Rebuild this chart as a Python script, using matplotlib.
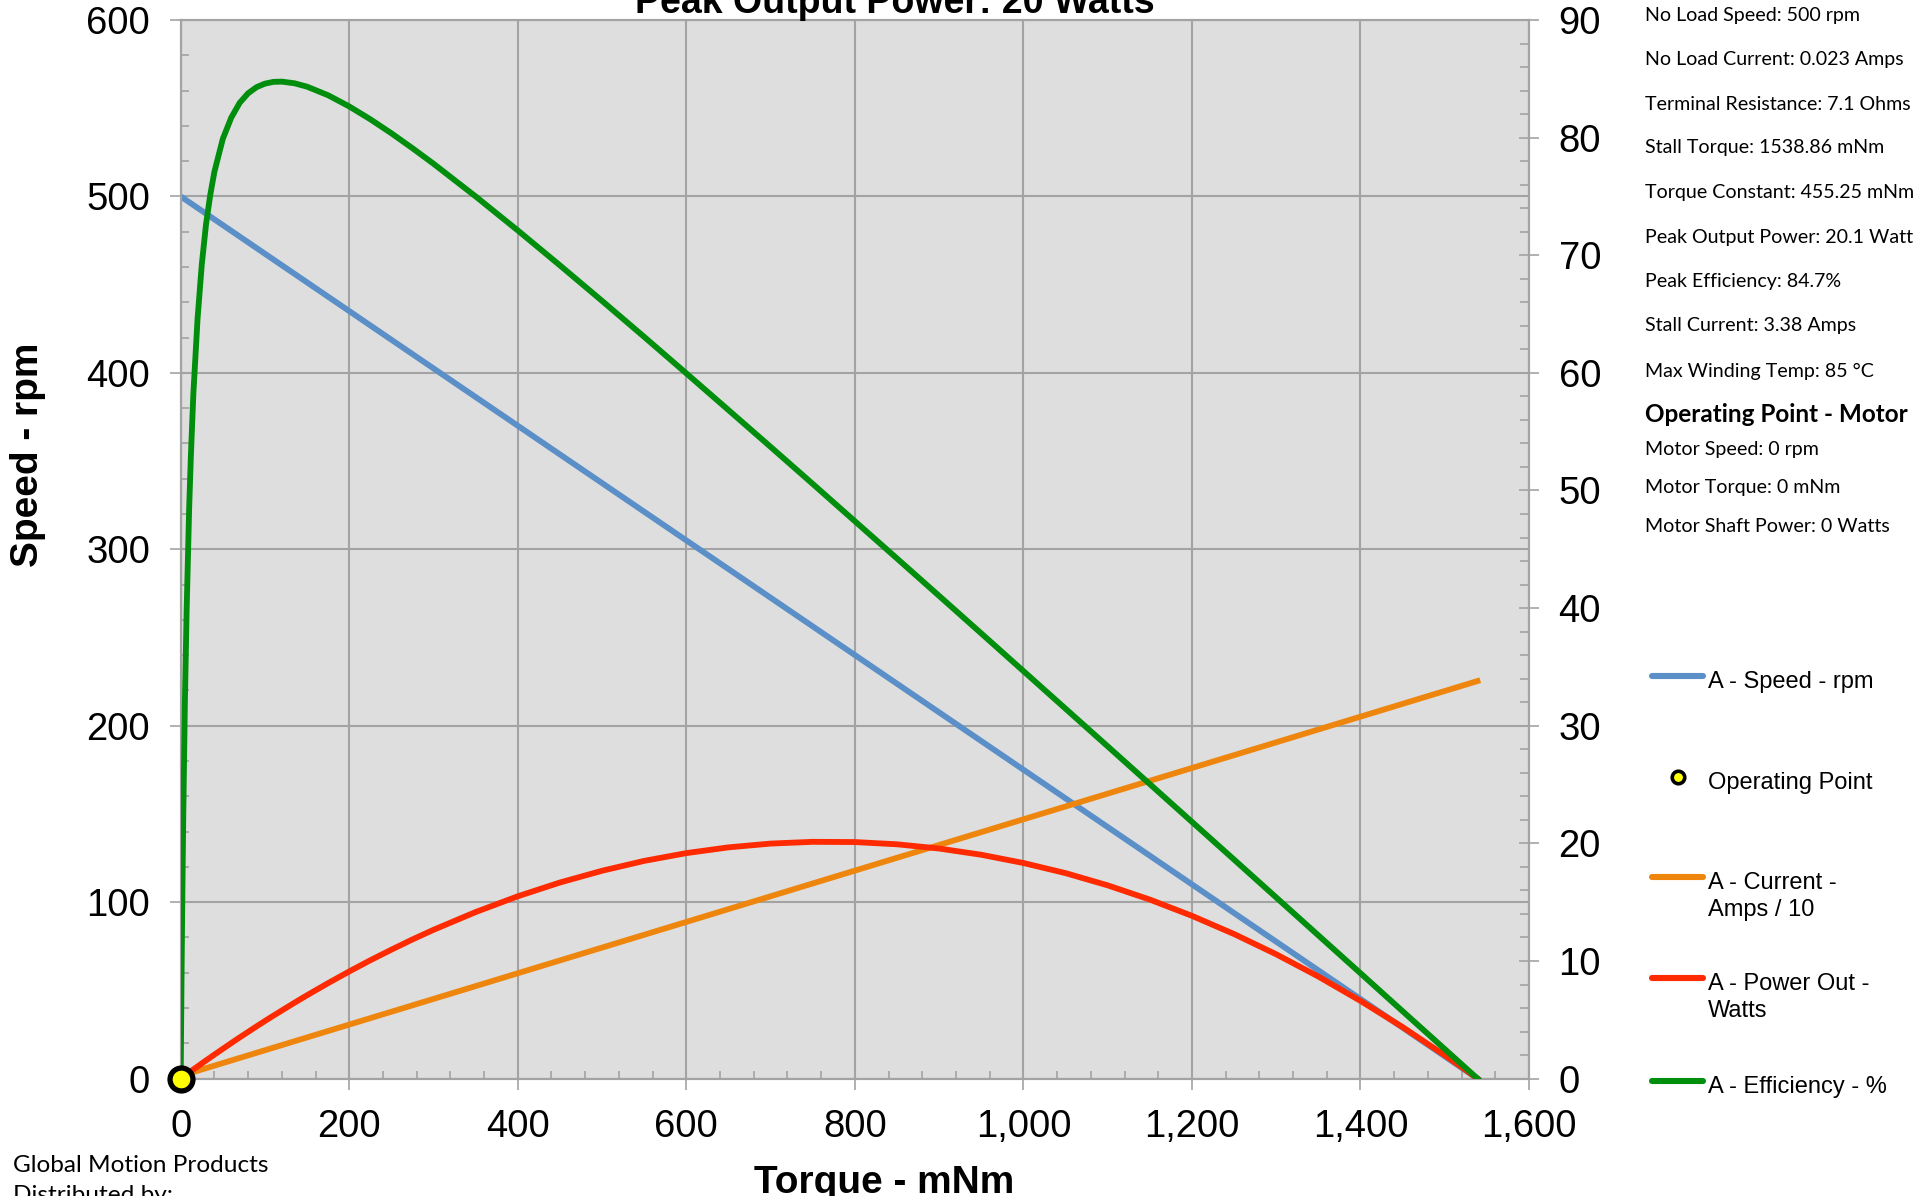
import matplotlib
matplotlib.use('Agg')
import matplotlib.pyplot as plt
from matplotlib.ticker import MultipleLocator, FuncFormatter
from matplotlib.lines import Line2D

# Values.
torque = [0, 0.5, 1, 2, 3, 5, 7, 10, 12, 15, 20, 25, 30, 35, 40, 50, 60, 70, 80, 90,
          100, 110, 120, 135, 150, 175, 200, 225, 250, 275, 300, 350, 400, 450, 500, 550,
          600, 650, 700, 750, 800, 850, 900, 950, 1000, 1050, 1100, 1150, 1200, 1250,
          1300, 1350, 1400, 1450, 1500, 1520, 1538.86]
power_out = [0, 0.03, 0.05, 0.10, 0.16, 0.26, 0.36, 0.52, 0.62, 0.78, 1.03, 1.29, 1.54, 1.79,
             2.04, 2.53, 3.02, 3.50, 3.97, 4.44, 4.90, 5.35, 5.79, 6.45, 7.09, 8.12, 9.11,
             10.06, 10.96, 11.83, 12.65, 14.16, 15.50, 16.67, 17.67, 18.51, 19.17, 19.66,
             19.98, 20.13, 20.11, 19.92, 19.56, 19.03, 18.33, 17.47, 16.43, 15.22, 13.84,
             12.29, 10.57, 8.68, 6.61, 4.38, 1.98, 0.98, 0]
efficiency = [0, 4.5, 8.7, 15.9, 22.1, 32.1, 39.7, 48.4, 52.8, 58.2, 64.6, 69.2, 72.6, 75.1,
              77.1, 79.9, 81.7, 82.96, 83.77, 84.29, 84.59, 84.74, 84.76, 84.62, 84.33, 83.6,
              82.65, 81.56, 80.37, 79.1, 77.78, 75.0, 72.11, 69.14, 66.12, 63.06, 59.96, 56.84,
              53.71, 50.56, 47.39, 44.22, 41.04, 37.85, 34.65, 31.45, 28.25, 25.04, 21.83,
              18.62, 15.4, 12.18, 8.96, 5.73, 2.51, 1.22, 0]

# straight lines: end points only
line_torque = [0, 1538.86]
speed = [500, 0]
current = [0.23, 33.8]

op_torque = [0]
op_value = [0]

title = "Peak Output Power: 20 Watts"
info_lines = ["No Load Speed: 500 rpm", "No Load Current: 0.023 Amps",
              "Terminal Resistance: 7.1 Ohms", "Stall Torque: 1538.86 mNm",
              "Torque Constant: 455.25 mNm/A", "Peak Output Power: 20.1 Watts",
              "Peak Efficiency: 84.7%", "Stall Current: 3.38 Amps",
              "Max Winding Temp: 85 \u00b0C"]
op_header = "Operating Point - Motor"
op_lines = ["Motor Speed: 0 rpm", "Motor Torque: 0 mNm", "Motor Shaft Power: 0 Watts"]
legend_labels = ["A - Speed - rpm", "Operating Point", "A - Current -\nAmps / 10",
                 "A - Power Out -\nWatts", "A - Efficiency - %"]

W, H = 1913, 1196
def fx(px):
    return px / W
def fy(py):
    return 1 - py / H

c_speed = '#5B8FC8'
c_current = '#EE860E'
c_power = '#FF2A00'
c_eff = '#008E0C'
c_grey = '#A3A3A3'

plt.rcParams['font.family'] = ['Liberation Sans', 'DejaVu Sans']

fig = plt.figure(figsize=(W / 100, H / 100), dpi=100)
ax = fig.add_axes([fx(180.7), fy(1078.6), fx(1529) - fx(180.7), fy(20) - fy(1078.6)])
ax.set_facecolor('#DEDEDE')
ax2 = ax.twinx()

lw = 4.2
style = dict(lw=lw, solid_joinstyle='round')
ax.plot(line_torque, speed, color=c_speed, zorder=3, **style)
ax2.plot(line_torque, current, color=c_current, zorder=3, **style)
ax2.plot(torque, power_out, color=c_power, zorder=4, **style)
ax2.plot(torque, efficiency, color=c_eff, zorder=5, **style)
ax2.plot(op_torque, op_value, 'o', ms=16.5, mfc='#FFFF00', mec='black', mew=3.8,
         clip_on=False, zorder=10)

ax.set_xlim(0, 1600)
ax.set_ylim(0, 600)
ax2.set_ylim(0, 90)

ax.xaxis.set_major_locator(MultipleLocator(200))
ax.xaxis.set_minor_locator(MultipleLocator(40))
ax.yaxis.set_major_locator(MultipleLocator(100))
ax.yaxis.set_minor_locator(MultipleLocator(20))
ax2.yaxis.set_major_locator(MultipleLocator(10))
ax2.yaxis.set_minor_locator(MultipleLocator(2))
ax.xaxis.set_major_formatter(FuncFormatter(lambda v, p: f'{v:,.0f}'))

ax.grid(True, which='major', color=c_grey, lw=1.5)
ax.set_axisbelow(True)

for a in (ax, ax2):
    for s in a.spines.values():
        s.set_color(c_grey)
        s.set_linewidth(1.5)

ax.tick_params(axis='both', which='major', direction='out', length=8, width=1.2,
               color=c_grey, labelsize=27.5, pad=14)
ax.tick_params(axis='x', which='major', pad=14)
ax.tick_params(axis='both', which='minor', direction='in', length=6, width=1.2, color=c_grey)
ax2.tick_params(axis='y', which='major', direction='inout', length=14.5, width=1.2,
                color=c_grey, labelsize=27.5, pad=14)
ax2.tick_params(axis='y', which='minor', direction='in', length=6.5, width=1.2, color=c_grey)

# title and axis labels
fig.text(fx(895), fy(13), title, ha='center', va='baseline', fontsize=27, fontweight='bold')
fig.text(fx(884), fy(1193), "Torque - mNm", ha='center', va='baseline', fontsize=28,
         fontweight='bold')
fig.text(fx(28), fy(455), "Speed - rpm", ha='center', va='center', rotation=90, fontsize=28,
         fontweight='bold')

# motor data panel
side_font = ['Lato', 'DejaVu Sans']
info_y = [16, 60, 104, 148, 193, 237, 282, 326, 371]
for yy, txt in zip(info_y, info_lines):
    fig.text(fx(1645), fy(yy), txt, ha='left', va='center', fontsize=14.1, family=side_font)
fig.text(fx(1645), fy(414), op_header, ha='left', va='center', fontsize=17.5,
         fontweight='bold', family=side_font)
for yy, txt in zip([449, 488, 527], op_lines):
    fig.text(fx(1645), fy(yy), txt, ha='left', va='center', fontsize=14.1, family=side_font)

fig.text(fx(13), fy(1166), "Global Motion Products", ha='left', va='center', fontsize=17.6,
         family=side_font)
fig.text(fx(13), fy(1196), "Distributed by:", ha='left', va='center', fontsize=17.6,
         family=side_font)

# legend, laid out like the original (handle level with the first text line)
leg_y = [676, 777, 877, 978, 1081]
leg_colors = [c_speed, None, c_current, c_power, c_eff]
for yy, col, lab in zip(leg_y, leg_colors, legend_labels):
    if col is None:
        fig.add_artist(Line2D([fx(1678)], [fy(yy)], marker='o', ms=9, mfc='#FFFF00',
                              mec='black', mew=2.6, transform=fig.transFigure))
    else:
        fig.add_artist(Line2D([fx(1652), fx(1703)], [fy(yy), fy(yy)], color=col, lw=4.4,
                              solid_capstyle='round', transform=fig.transFigure))
    fig.text(fx(1708), fy(yy - 5), lab, ha='left', va='top', fontsize=17, linespacing=1.27)

fig.savefig('out.png', dpi=100)
